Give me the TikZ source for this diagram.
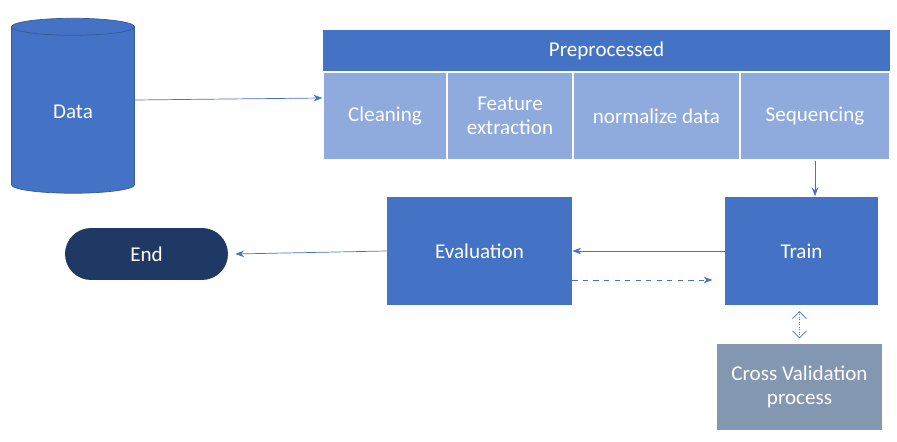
\documentclass[tikz,border=0pt]{standalone}
\usepackage{fontspec}
\setmainfont{Carlito}
\usetikzlibrary{shapes.geometric,arrows.meta}
\definecolor{mainblue}{HTML}{4472C4}
\definecolor{lightblue}{HTML}{8FAADC}
\definecolor{navy}{HTML}{1F3864}
\definecolor{slate}{HTML}{8497B0}
\tikzset{
  box/.style={fill=mainblue, text=white, minimum width=#1, minimum height=2.18cm, align=center, inner sep=0pt, font=\large},
  sub/.style={fill=lightblue, draw=white, line width=0.8pt, text=white, minimum width=#1, minimum height=1.76cm, align=center, inner sep=0pt, font=\large},
  flow/.style={mainblue, -{Stealth[length=5pt]}},
}
\begin{document}
\begin{tikzpicture}[x=0.02cm, y=-0.02cm]
        \useasboundingbox (0,0) rectangle (897,442);
        \node[cylinder, shape border rotate=90, aspect=0.33, fill=mainblue, draw=mainblue!80!black, minimum width=2.46cm, minimum height=3.5cm, text=white, font=\large] (data) at (73,112) {Data};
        \node[fill=mainblue, text=white, minimum width=11.34cm, minimum height=0.84cm, inner sep=0pt, font=\large] (pre) at (606.5,51) {Preprocessed};
        \node[sub=2.48cm] (clean) at (385,116) {Cleaning};
        \node[sub=2.52cm] (feat) at (510,116) {Feature\\extraction};
        \node[sub=3.34cm] (norm) at (656.5,116) {normalize data};
        \node[sub=3cm] (seq) at (815,116) {Sequencing};
        \node[box=3.06cm] (train) at (801.5,251) {Train};
        \node[box=3.7cm] (eval) at (479.5,251) {Evaluation};
        \node[fill=navy, text=white, rounded corners=0.52cm, minimum width=3.26cm, minimum height=1.04cm, font=\large] (end) at (146.5,254) {End};
        \node[fill=slate, text=white, minimum width=3.3cm, minimum height=1.72cm, align=center, font=\large] (cv) at (799.5,387) {Cross Validation\\process};
        \draw[flow] (data.east |- 0,100) -- (clean.west |- 0,98);
        \draw[flow] (seq.south) -- (train.north -| seq.south);
        \draw[flow] (train.west) -- (eval.east);
        \draw[flow] (eval.west) -- ([xshift=4pt]end.east);
        \draw[flow, dashed] (eval.east |- 0,280) -- ([xshift=-7]train.west |- 0,280);
        \draw[mainblue, densely dotted, {Straight Barb[length=4pt]}-{Straight Barb[length=4pt]}] ([yshift=-3pt]train.south -| cv.north) -- ([yshift=3pt]cv.north);
\end{tikzpicture}
\end{document}
